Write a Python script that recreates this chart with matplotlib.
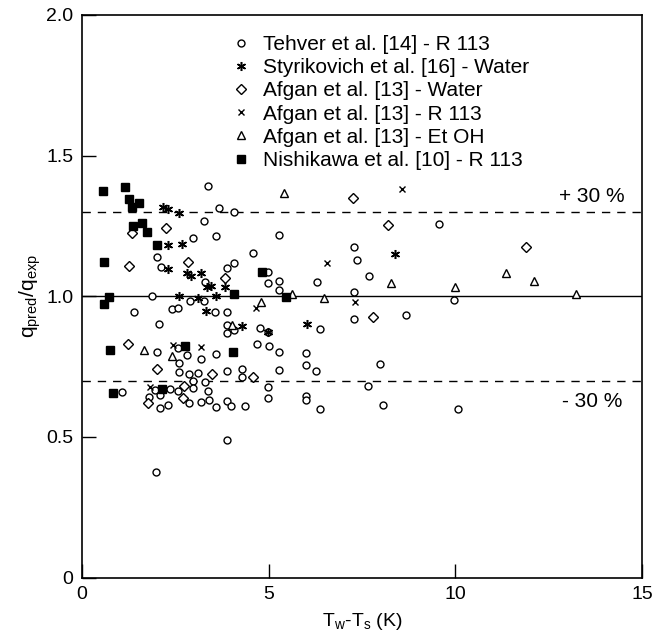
import matplotlib
matplotlib.use("Agg")
import matplotlib.pyplot as plt

plt.rcParams["font.family"] = ["Liberation Sans", "DejaVu Sans"]
plt.rcParams["mathtext.fontset"] = "custom"
plt.rcParams["mathtext.rm"] = "Liberation Sans"

# Tehver et al. [14] - R 113
tehver_x = [3.38, 3.67, 4.08, 3.28, 3.60, 2.99, 2.01, 2.11, 3.30, 3.90, 4.08, 4.57, 1.88, 2.90, 3.28,
            1.40, 2.41, 2.59, 3.58, 3.88, 3.88, 3.88, 4.08, 2.08, 2.01, 2.57, 2.81, 3.18, 3.59, 2.60,
            2.60, 2.87, 3.10, 3.89, 4.30, 4.30, 2.99, 3.30, 1.09, 1.96, 2.36, 2.10, 2.57, 2.99, 3.39,
            1.79, 2.10, 2.30, 2.88, 3.18, 3.41, 3.59, 3.88, 4.00, 4.37, 3.88, 1.98,
            5.28, 7.29, 7.36, 4.99, 4.98, 5.28, 5.28, 6.29, 7.69, 7.29,
            4.77, 4.99, 6.38, 7.29, 8.68, 4.68, 5.01, 5.29, 5.99, 5.99, 6.27, 5.29, 4.99, 4.99,
            5.99, 5.99, 6.38, 7.98, 7.65, 8.05, 9.57, 9.97, 10.08]
tehver_y = [1.393, 1.313, 1.298, 1.268, 1.214, 1.206, 1.141, 1.105, 1.052, 1.099, 1.119, 1.153, 1.002, 0.984, 0.984,
            0.943, 0.955, 0.957, 0.945, 0.945, 0.898, 0.871, 0.880, 0.900, 0.801, 0.815, 0.791, 0.777, 0.795, 0.762,
            0.732, 0.724, 0.726, 0.733, 0.741, 0.712, 0.700, 0.694, 0.658, 0.667, 0.671, 0.649, 0.664, 0.673, 0.664,
            0.643, 0.604, 0.613, 0.622, 0.625, 0.631, 0.605, 0.626, 0.611, 0.611, 0.489, 0.375,
            1.217, 1.176, 1.129, 1.087, 1.046, 1.054, 1.022, 1.052, 1.072, 1.014,
            0.888, 0.872, 0.884, 0.919, 0.933, 0.829, 0.824, 0.801, 0.797, 0.756, 0.735, 0.738, 0.678, 0.639,
            0.646, 0.631, 0.599, 0.758, 0.682, 0.613, 1.257, 0.987, 0.598]

# Styrikovich et al. [16] - Water
styr_x = [2.18, 2.32, 2.60, 2.30, 2.68, 2.32, 2.81, 2.92, 3.18, 3.34, 3.46, 3.84, 2.61, 3.12, 3.59,
          3.33, 4.30, 6.02, 8.38, 4.99]
styr_y = [1.316, 1.309, 1.297, 1.182, 1.185, 1.097, 1.084, 1.072, 1.084, 1.034, 1.036, 1.032, 1.001, 0.993, 1.002,
          0.949, 0.894, 0.900, 1.150, 0.872]

# Afgan et al. [13] - Water
afw_x = [1.35, 2.25, 1.27, 2.84, 3.84, 1.23, 2.01, 3.48, 2.75, 1.78, 2.70, 4.59, 7.27, 8.20, 7.80, 11.88]
afw_y = [1.224, 1.244, 1.108, 1.122, 1.064, 0.829, 0.743, 0.724, 0.681, 0.619, 0.637, 0.712, 1.348, 1.253, 0.927, 1.176]

# Afgan et al. [13] - R 113
afr_x = [2.45, 3.18, 1.83, 8.56, 6.56, 7.30, 4.66]
afr_y = [0.827, 0.821, 0.676, 1.380, 1.117, 0.979, 0.958]

# Afgan et al. [13] - Et OH
afe_x = [1.68, 2.41, 4.03, 4.80, 5.42, 5.62, 6.47, 8.28, 9.99, 11.35, 12.10, 13.22]
afe_y = [0.809, 0.788, 0.898, 0.979, 1.366, 1.008, 0.993, 1.048, 1.034, 1.084, 1.055, 1.008]

# Nishikawa et al. [10] - R 113
nish_x = [0.58, 1.17, 1.27, 1.35, 1.54, 1.38, 1.61, 1.76, 2.01, 0.61, 0.73, 0.61, 4.08, 0.76, 2.77,
          4.04, 0.85, 2.14, 4.82, 5.46]
nish_y = [1.374, 1.390, 1.345, 1.318, 1.330, 1.250, 1.259, 1.230, 1.182, 1.121, 0.998, 0.971, 1.007, 0.809, 0.824,
          0.801, 0.655, 0.670, 1.085, 0.998]

fig = plt.figure(figsize=(6.62, 6.37), dpi=100)
ax = fig.add_axes([0.1234, 0.0934, 0.8469, 0.8831])

# reference lines: exact agreement and +/- 30 %
ax.axhline(1.0, color="black", lw=1.0, zorder=1)
ax.axhline(1.3, color="black", lw=1.0, dashes=(6, 5), zorder=1)
ax.axhline(0.7, color="black", lw=1.0, dashes=(6, 5), zorder=1)

common = dict(ls="none", color="black", zorder=3)
ax.plot(tehver_x, tehver_y, marker="o", ms=5, mfc="white", mew=1.0,
        label="Tehver et al. [14] - R 113", **common)
ax.plot(styr_x, styr_y, marker=(6, 2, 0), ms=6.5, mew=1.1,
        label="Styrikovich et al. [16] - Water", **common)
ax.plot(afw_x, afw_y, marker="D", ms=5, mfc="white", mew=1.0,
        label="Afgan et al. [13] - Water", **common)
ax.plot(afr_x, afr_y, marker="x", ms=5, mew=1.0,
        label="Afgan et al. [13] - R 113", **common)
ax.plot(afe_x, afe_y, marker="^", ms=6, mfc="white", mew=1.0,
        label="Afgan et al. [13] - Et OH", **common)
ax.plot(nish_x, nish_y, marker="s", ms=5.5, mew=1.0,
        label="Nishikawa et al. [10] - R 113", **common)

ax.text(13.65, 1.354, "+ 30 %", fontsize=15, ha="center", va="center")
ax.text(13.67, 0.625, "- 30 %", fontsize=15, ha="center", va="center")

ax.set_xlim(0, 15)
ax.set_ylim(0, 2.0)
ax.set_xticks([0, 5, 10, 15])
ax.set_yticks([0, 0.5, 1.0, 1.5, 2.0])
ax.set_yticklabels(["0", "0.5", "1.0", "1.5", "2.0"])
ax.tick_params(direction="in", length=10, width=1.0, labelsize=14, pad=6)
for s in ax.spines.values():
    s.set_linewidth(1.2)

ax.set_xlabel(r"T$_\mathregular{w}$-T$_\mathregular{s}$ (K)", fontsize=14, labelpad=6)
ax.set_ylabel(r"q$_\mathregular{pred}$/q$_\mathregular{exp}$", fontsize=15, labelpad=2)

leg = ax.legend(loc="upper left", bbox_to_anchor=(230.6 / 662, 1 - 35 / 637),
                bbox_transform=fig.transFigure, frameon=False, fontsize=15,
                borderpad=0, handlelength=1.0, handletextpad=0.56, labelspacing=0.2,
                borderaxespad=0, numpoints=1)

fig.savefig("out.png", dpi=100)
